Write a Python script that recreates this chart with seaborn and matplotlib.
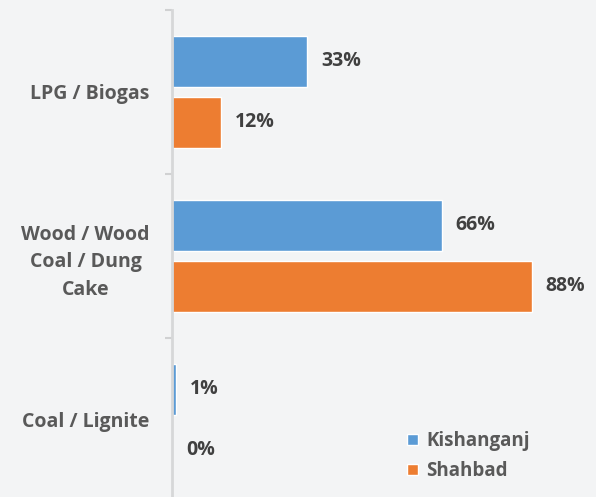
import matplotlib
matplotlib.use("Agg")
import matplotlib.pyplot as plt
import seaborn as sns
import pandas as pd

categories = ["LPG / Biogas", "Wood / Wood\nCoal / Dung\nCake", "Coal / Lignite"]
series = ["Kishanganj", "Shahbad"]
kishanganj = [33, 66, 1]
shahbad = [12, 88, 0]
colors = ["#5B9BD5", "#ED7D31"]

df = pd.DataFrame({
    "category": categories * 2,
    "district": [series[0]] * 3 + [series[1]] * 3,
    "share": kishanganj + shahbad,
})

sns.set_theme(style="white")
plt.rcParams["font.family"] = ["Open Sans", "DejaVu Sans"]

bg = "#f3f4f5"
fig = plt.figure(figsize=(5.96, 4.97), dpi=100, facecolor=bg)
ax = fig.add_axes([0.2886, 0.0, 0.7114, 0.98], facecolor=bg)

sns.barplot(data=df, y="category", x="share", hue="district", order=categories,
            hue_order=series, palette=colors, orient="h", width=0.744, gap=0.164,
            saturation=1, ax=ax, legend=True)

for cont in ax.containers:
    ax.bar_label(cont, labels=[f"{int(v)}%" for v in cont.datavalues], padding=10,
                 fontsize=14, fontweight="bold", color="#404040")

ax.set_xlim(0, 103.7)
ax.set_ylim(2.47, -0.5)
ax.set_xlabel("")
ax.set_ylabel("")
ax.set_xticks([])

for side in ["top", "right", "bottom"]:
    ax.spines[side].set_visible(False)
ax.spines["left"].set_color("#d6d7d8")
ax.spines["left"].set_linewidth(2)

ax.set_yticks([0, 1, 2])
ax.set_yticklabels(categories, fontsize=14, fontweight="bold", color="#595959",
                   multialignment="center", linespacing=1.5)
ax.tick_params(axis="y", which="major", length=0, pad=16)
ax.set_yticks([-0.5, 0.5, 1.5], minor=True)
ax.tick_params(axis="y", which="minor", length=5, width=1.5, color="#d0d1d2", left=True)

leg = ax.legend(loc="lower left", bbox_to_anchor=(0.515, -0.002), frameon=False,
                handlelength=0.55, handleheight=0.55, handletextpad=0.45,
                labelspacing=0.55, fontsize=13.5)
for t in leg.get_texts():
    t.set_color("#595959")
    t.set_fontweight("bold")

fig.savefig("out.png", dpi=100, facecolor=bg)
